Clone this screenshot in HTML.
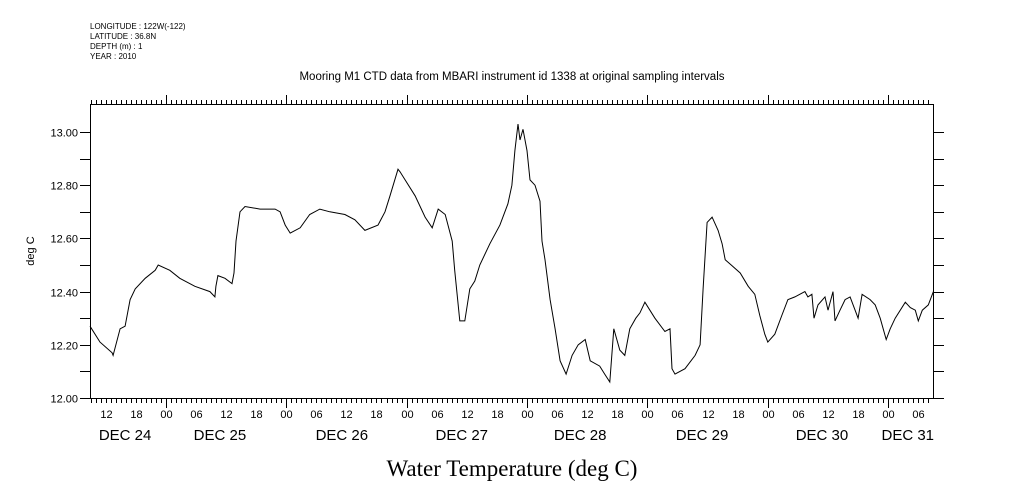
<!DOCTYPE html>
<html><head><meta charset="utf-8"><style>
body{margin:0;background:#fff}
svg{display:block}
text{font-family:"Liberation Sans",sans-serif;fill:#000}
</style></head><body>
<svg id="chart" width="1009" height="504" viewBox="0 0 1009 504">
<g font-size="8">
<text x="90" y="29">LONGITUDE : 122W(-122)</text>
<text x="90" y="39">LATITUDE : 36.8N</text>
<text x="90" y="49">DEPTH (m) : 1</text>
<text x="90" y="59">YEAR : 2010</text>
</g>
<text x="512" y="80" font-size="11.5" text-anchor="middle">Mooring M1 CTD data from MBARI instrument id 1338 at original sampling intervals</text>
<text x="34" y="251" font-size="11" text-anchor="middle" transform="rotate(-90 34 251)">deg C</text>
<text x="512" y="476" font-size="23" text-anchor="middle" style="font-family:'Liberation Serif',serif">Water Temperature (deg C)</text>
<g id="axes"></g>
<path id="line" fill="none" stroke="#000" stroke-width="1"/>
</svg>
<script>
const hours=[8.9,10.9,13.3,13.5,14.9,15.9,16.9,17.9,19.9,21.9,22.5,24.8,26.8,29.8,32.8,33.8,34.0,34.4,35.8,37.2,37.6,38.0,38.8,39.8,42.8,45.8,46.8,47.8,48.8,50.8,52.7,54.7,56.7,59.7,61.7,63.7,66.3,67.7,68.7,70.3,70.7,71.7,73.7,75.7,77.1,78.3,79.7,81.1,81.6,82.6,83.6,84.6,85.6,86.6,88.6,90.6,92.2,93.0,93.6,94.2,94.6,95.2,96.0,96.6,97.6,98.6,99.0,99.6,100.6,101.6,102.6,103.8,105.0,106.2,107.6,108.6,110.5,111.5,112.5,113.3,114.5,115.5,116.5,117.7,118.5,119.5,121.5,123.5,124.5,124.9,125.5,127.5,129.5,130.5,131.1,131.9,132.9,134.1,134.9,135.5,136.7,138.5,140.1,141.4,142.4,143.4,144.0,145.4,146.8,148.0,149.4,151.4,152.0,152.8,153.2,154.0,155.4,156.0,157.0,157.4,158.4,159.4,160.4,161.4,162.0,162.8,164.4,165.4,166.4,167.6,168.4,169.4,171.4,172.4,173.4,174.0,174.8,176.0,177.0];
const temps=[12.27,12.21,12.17,12.16,12.26,12.27,12.37,12.41,12.45,12.48,12.50,12.48,12.45,12.42,12.40,12.38,12.42,12.46,12.45,12.43,12.47,12.59,12.70,12.72,12.71,12.71,12.70,12.65,12.62,12.64,12.69,12.71,12.70,12.69,12.67,12.63,12.65,12.70,12.76,12.86,12.85,12.82,12.76,12.68,12.64,12.71,12.69,12.59,12.48,12.29,12.29,12.41,12.44,12.50,12.58,12.65,12.73,12.80,12.93,13.03,12.97,13.01,12.93,12.82,12.80,12.74,12.59,12.52,12.37,12.26,12.14,12.09,12.16,12.20,12.22,12.14,12.12,12.09,12.06,12.26,12.18,12.16,12.26,12.30,12.32,12.36,12.30,12.25,12.26,12.11,12.09,12.11,12.16,12.20,12.41,12.66,12.68,12.63,12.58,12.52,12.50,12.47,12.42,12.39,12.31,12.24,12.21,12.24,12.31,12.37,12.38,12.40,12.38,12.39,12.30,12.35,12.38,12.33,12.40,12.29,12.33,12.37,12.38,12.33,12.30,12.39,12.37,12.35,12.30,12.22,12.26,12.30,12.36,12.34,12.33,12.29,12.33,12.35,12.40];
const yTicks=[12.0,12.1,12.2,12.3,12.4,12.5,12.6,12.7,12.8,12.9,13.0];
const yLabels=["12.00","","12.20","","12.40","","12.60","","12.80","","13.00"];
const dayLabels=["DEC 24","DEC 25","DEC 26","DEC 27","DEC 28","DEC 29","DEC 30","DEC 31"];
const dayLabelHour=[15.9,34.8,59.1,83.0,106.6,130.9,154.8,171.9];

const L=90,R=933,T=104,B=398,H0=8.9,PXH=5.017;
const xs=h=>L+(h-H0)*PXH;
const ys=v=>B-(v-12)*266;
const NS="http://www.w3.org/2000/svg";
const ax=document.getElementById('axes');
function mk(tag,at,txt){const e=document.createElementNS(NS,tag);for(const k in at)e.setAttribute(k,at[k]);if(txt!==undefined)e.textContent=txt;ax.appendChild(e);return e;}
const f=mk('rect',{x:L+0.5,y:T+0.5,width:R-L,height:B-T,fill:'none',stroke:'#000','stroke-width':1});


let d='';
const hEnd=H0+(R-L)/PXH;
for(let h=Math.ceil(H0);h<=hEnd;h++){
  const x=Math.round(xs(h))+0.5;
  const len=(h%24===0)?9:4;
  d+=`M${x} ${T}V${T-len}M${x} ${B+1}V${B+1+len}`;
  if(h%6===0){
    const t=mk('text',{x:x,y:418,'font-size':11,'text-anchor':'middle'},String(h%24).padStart(2,'0'));
    
    
  }
}
yTicks.forEach((v,i)=>{
  const y=Math.round(ys(v))+0.5;
  d+=`M${L-10} ${y}H${L}M${R+1} ${y}H${R+11}`;
  if(yLabels[i]){
    const t=mk('text',{x:78,y:y+4,'font-size':11,'text-anchor':'end'},yLabels[i]);
    
    
  }
});
const tk=mk('path',{d:d,stroke:'#000','stroke-width':1,fill:'none'});


dayLabels.forEach((s,i)=>{
  const t=mk('text',{x:xs(dayLabelHour[i]),y:440,'font-size':15,'text-anchor':'middle'},s);
  
  
});
document.getElementById('line').setAttribute('d',hours.map((h,i)=>(i?'L':'M')+xs(h).toFixed(1)+' '+ys(temps[i]).toFixed(1)).join(''));
</script>
</body></html>
